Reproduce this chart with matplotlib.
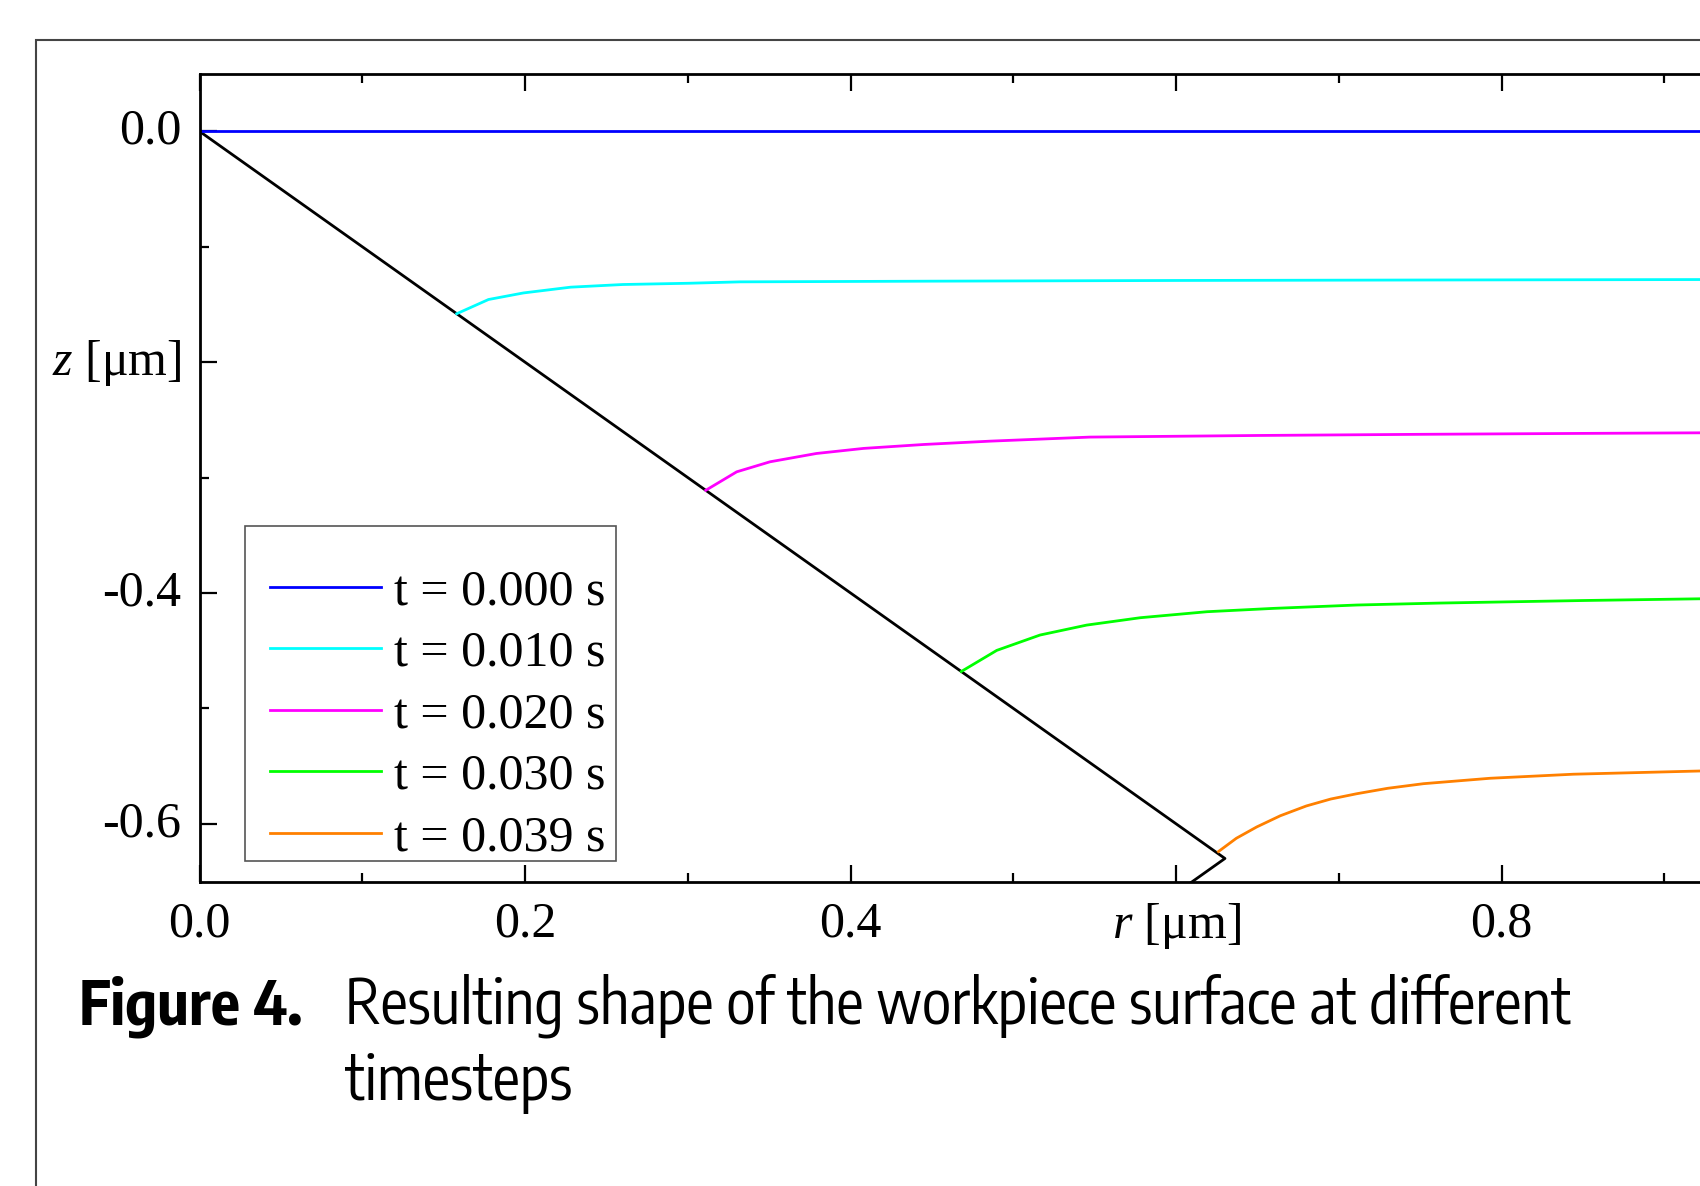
import matplotlib
matplotlib.use("Agg")
import matplotlib.pyplot as plt
from matplotlib import font_manager as fm
from matplotlib.patches import Rectangle
from matplotlib.transforms import ScaledTranslation

plt.rcParams['font.family'] = ['Liberation Serif', 'DejaVu Serif']
plt.rcParams['mathtext.fontset'] = 'custom'
plt.rcParams['mathtext.it'] = 'Liberation Serif:italic'
plt.rcParams['mathtext.rm'] = 'Liberation Serif'

# tool outline (black)
r_tool = [0.0, 0.63, 0.55]
z_tool = [0.0, -0.63, -0.71]

labels = ['t = 0.000 s', 't = 0.010 s', 't = 0.020 s', 't = 0.030 s', 't = 0.039 s']
colors = ['#0000FF', '#00FFFF', '#FF00FF', '#00FF00', '#FF8000']

r_t0 = [0.0, 1.0]
z_t0 = [0.0, 0.0]
r_t1 = [0.158, 0.1775, 0.199, 0.228, 0.260, 0.301, 0.332, 0.45, 0.60, 0.75, 0.922, 1.0]
z_t1 = [-0.158, -0.1457, -0.140, -0.135, -0.1327, -0.1316, -0.1304, -0.1298, -0.1292, -0.1288, -0.1284, -0.1283]
r_t2 = [0.311, 0.330, 0.3505, 0.379, 0.408, 0.445, 0.486, 0.547, 0.65, 0.75, 0.85, 0.922, 1.0]
z_t2 = [-0.311, -0.295, -0.2863, -0.2791, -0.2747, -0.2713, -0.2684, -0.2649, -0.2635, -0.2625, -0.2617, -0.2612, -0.261]
r_t3 = [0.468, 0.4898, 0.5164, 0.545, 0.578, 0.619, 0.66, 0.711, 0.762, 0.85, 0.922, 1.0]
z_t3 = [-0.468, -0.4497, -0.4364, -0.4278, -0.4214, -0.4162, -0.4133, -0.4104, -0.4087, -0.4065, -0.4050, -0.4040]
r_t4 = [0.626, 0.637, 0.6495, 0.664, 0.680, 0.695, 0.711, 0.730, 0.752, 0.793, 0.844, 0.922, 1.0]
z_t4 = [-0.624, -0.6125, -0.6027, -0.5930, -0.5845, -0.5785, -0.5739, -0.5692, -0.5652, -0.5605, -0.557, -0.5542, -0.5525]

xticks = [0.0, 0.2, 0.4, 0.6, 0.8, 1.0]
xticklabels = ['0.0', '0.2', '0.4', '$r$ [μm]', '0.8', '']
yticks = [0.0, -0.2, -0.4, -0.6]
yticklabels = ['0.0', '$z$ [μm]', '-0.4', '-0.6']


def pick_narrow():
    # look for a condensed sans face, else plain Liberation Sans
    for f in fm.fontManager.ttflist:
        n = f.name
        if 'Sans' in n and ('Narrow' in n or 'Condensed' in n):
            return n, 'normal'
    for f in fm.fontManager.ttflist:
        if f.name in ('Roboto', 'Noto Sans', 'Open Sans', 'Liberation Sans') and \
                str(f.stretch) in ('condensed', 'semi-condensed', 'extra-condensed', '87.5', '75'):
            return f.name, f.stretch
    return 'Liberation Sans', 'normal'


fig = plt.figure(figsize=(17, 11.86), dpi=100)
fig.patches.append(Rectangle((0.021, -0.2), 1.5, 1.166, transform=fig.transFigure,
                             fill=False, edgecolor='#444444', linewidth=1.5))

ax = fig.add_axes([0.1174, 0.2567, 0.9574, 0.6812])
ax.plot(r_tool, z_tool, color='black', lw=2.0)
series = [(r_t0, z_t0), (r_t1, z_t1), (r_t2, z_t2), (r_t3, z_t3), (r_t4, z_t4)]
for (r, z), c, lab in zip(series, colors, labels):
    ax.plot(r, z, color=c, lw=2.0, label=lab)

ax.set_xlim(0, 1.0)
ax.set_ylim(-0.65, 0.05)
ax.set_xticks(xticks)
ax.set_xticklabels(xticklabels)
ax.set_yticks(yticks)
ax.set_yticklabels(yticklabels)
ax.set_xticks([0.1, 0.3, 0.5, 0.7, 0.9], minor=True)
ax.set_yticks([-0.1, -0.3, -0.5], minor=True)
ax.tick_params(which='both', direction='in', top=True, right=True, width=1.6, labelsize=36)
ax.tick_params(which='major', length=12)
ax.tick_params(which='minor', length=6.5)
ax.tick_params(axis='x', pad=14)
ax.tick_params(axis='y', pad=13)
lift = ScaledTranslation(0, 4 / 72, fig.dpi_scale_trans)
for t in ax.get_yticklabels():
    t.set_transform(t.get_transform() + lift)
for s in ax.spines.values():
    s.set_linewidth(2.0)

# legend entries without frame; frame drawn separately so the rows sit low in it
leg = ax.legend(loc='upper left', bbox_to_anchor=(0.0293, 0.4148), fontsize=36,
                frameon=False, handlelength=2.23, handletextpad=0.25,
                labelspacing=0.3, borderpad=0.45, borderaxespad=0)
ax.add_patch(Rectangle((0.028, 0.0255), 0.2276, 0.4148, transform=ax.transAxes,
                       fill=False, edgecolor='#555555', linewidth=1.2, zorder=6))

cap_name, cap_stretch = pick_narrow()
y1 = 1 - 1024 / 1186
y2 = 1 - 1100 / 1186
t_fig = fig.text(79 / 1700, y1, 'Figure 4.', fontsize=44, fontweight='bold',
                 family=cap_name, stretch=cap_stretch, va='baseline', ha='left')
t_l1 = fig.text(345 / 1700, y1, 'Resulting shape of the workpiece surface at different',
                fontsize=44, family=cap_name, stretch=cap_stretch, va='baseline', ha='left')
t_l2 = fig.text(345 / 1700, y2, 'timesteps',
                fontsize=44, family=cap_name, stretch=cap_stretch, va='baseline', ha='left')

# shrink caption to the width it has in the figure
fig.canvas.draw()
rend = fig.canvas.get_renderer()
w = t_l1.get_window_extent(rend).width
size = min(44, 44 * 1240 / w)
for t in (t_fig, t_l1, t_l2):
    t.set_fontsize(size)

fig.savefig('out.png', dpi=100, facecolor='white')
